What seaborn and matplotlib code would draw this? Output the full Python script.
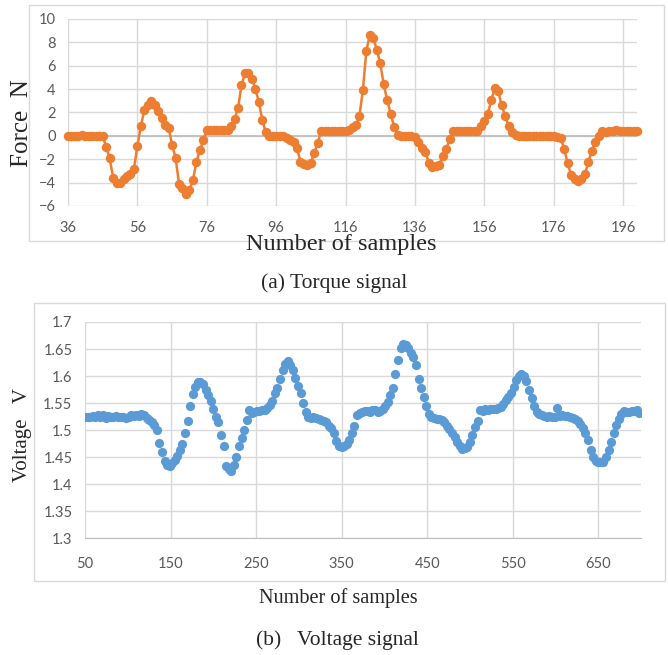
import numpy as np
import pandas as pd
import matplotlib
matplotlib.use("Agg")
import matplotlib.pyplot as plt
import seaborn as sns
from matplotlib.patches import Rectangle

# torque signal (force, N), one value per sample starting at 36
torque = [
    0, 0, 0, 0, 0.05, 0, 0, 0, 0, 0,
    0, -0.94, -1.91, -3.57, -4.0, -4.0, -3.71, -3.46, -3.29, -2.83,
    -0.86, 0.86, 2.2, 2.66, 3.0, 2.63, 2.14, 1.57, 0.91, 0.71,
    -0.8, -1.86, -4.09, -4.49, -5.0, -4.63, -3.8, -2.23, -1.23, -0.37,
    0.54, 0.5, 0.5, 0.5, 0.5, 0.5, 0.5, 0.86, 1.43, 2.37,
    4.34, 5.34, 5.4, 4.9, 4.03, 2.9, 1.37, 0.29, 0, 0,
    0, 0, -0.05, -0.15, -0.37, -0.51, -1.0, -2.23, -2.43, -2.49,
    -2.29, -1.43, -0.57, 0.43, 0.45, 0.45, 0.45, 0.45, 0.45, 0.45,
    0.45, 0.5, 0.75, 0.9, 1.7, 3.95, 7.3, 8.65, 8.4, 7.35,
    6.2, 4.4, 3.05, 1.9, 0.77, 0.1, 0, 0, 0, 0,
    -0.1, -0.5, -1.0, -1.4, -2.3, -2.65, -2.6, -2.5, -1.7, -1.15,
    -0.3, 0.45, 0.45, 0.45, 0.45, 0.45, 0.45, 0.45, 0.45, 0.86,
    1.3, 1.9, 3.05, 4.1, 3.8, 2.6, 1.7, 0.86, 0.37, 0.1,
    0, 0, 0, 0, 0, -0.05, 0, 0, 0, 0,
    0, -0.1, -0.2, -1.09, -2.34, -3.34, -3.71, -3.86, -3.71, -3.29,
    -2.2, -1.29, -0.51, 0, 0.43, 0.37, 0.45, 0.45, 0.49, 0.45,
    0.45, 0.45, 0.45, 0.45, 0.45,
]
torque_start = 36
torque_xticks = [36, 56, 76, 96, 116, 136, 156, 176, 196]
torque_yticks = [-6, -4, -2, 0, 2, 4, 6, 8, 10]

# voltage signal (V), one value every 3 samples starting at 50
voltage = [
    1.524, 1.525, 1.524, 1.526, 1.525, 1.527, 1.524, 1.528, 1.523, 1.526,
    1.525, 1.524, 1.526, 1.525, 1.524, 1.525, 1.522, 1.525, 1.527, 1.526,
    1.528, 1.526, 1.529, 1.527, 1.523, 1.518, 1.514, 1.510, 1.500, 1.476,
    1.460, 1.443, 1.436, 1.434, 1.439, 1.444, 1.452, 1.463, 1.475, 1.494,
    1.517, 1.545, 1.566, 1.580, 1.588, 1.589, 1.585, 1.575, 1.564, 1.553,
    1.538, 1.524, 1.515, 1.490, 1.470, 1.433, 1.427, 1.425, 1.435, 1.450,
    1.470, 1.485, 1.500, 1.518, 1.537, 1.532, 1.534, 1.535, 1.535, 1.537,
    1.537, 1.540, 1.546, 1.554, 1.568, 1.578, 1.595, 1.612, 1.622, 1.627,
    1.620, 1.612, 1.596, 1.582, 1.568, 1.550, 1.533, 1.525, 1.522, 1.524,
    1.523, 1.521, 1.519, 1.517, 1.514, 1.508, 1.503, 1.494, 1.480, 1.470,
    1.468, 1.470, 1.474, 1.482, 1.494, 1.508, 1.528, 1.532, 1.534, 1.535,
    1.536, 1.534, 1.537, 1.537, 1.533, 1.535, 1.539, 1.545, 1.552, 1.565,
    1.577, 1.603, 1.630, 1.652, 1.660, 1.657, 1.651, 1.643, 1.636, 1.620,
    1.595, 1.578, 1.562, 1.545, 1.530, 1.524, 1.522, 1.521, 1.521, 1.518,
    1.514, 1.508, 1.502, 1.495, 1.487, 1.478, 1.470, 1.465, 1.466, 1.469,
    1.478, 1.490, 1.505, 1.516, 1.537, 1.536, 1.538, 1.537, 1.538, 1.539,
    1.539, 1.541, 1.543, 1.548, 1.556, 1.562, 1.569, 1.579, 1.592, 1.600,
    1.604, 1.600, 1.590, 1.575, 1.560, 1.545, 1.534, 1.530, 1.527, 1.526,
    1.525, 1.526, 1.524, 1.525, 1.540, 1.526, 1.527, 1.526, 1.526, 1.524,
    1.523, 1.520, 1.517, 1.511, 1.503, 1.495, 1.482, 1.463, 1.450, 1.443,
    1.440, 1.440, 1.441, 1.450, 1.463, 1.478, 1.494, 1.510, 1.521, 1.530,
    1.535, 1.533, 1.534, 1.535, 1.536, 1.537, 1.532,
]
volt_start = 50
volt_step = 3
volt_xticks = [50, 150, 250, 350, 450, 550, 650]
volt_yticks = [1.3, 1.35, 1.4, 1.45, 1.5, 1.55, 1.6, 1.65, 1.7]
volt_ylabels = ["1.3", "1.35", "1.4", "1.45", "1.5", "1.55", "1.6", "1.65", "1.7"]

df_t = pd.DataFrame({"sample": np.arange(torque_start, torque_start + len(torque)), "force": torque})
df_v = pd.DataFrame({"sample": np.arange(volt_start, volt_start + volt_step * len(voltage), volt_step),
                     "voltage": voltage})

sns.set_style("white")
plt.rcParams["font.family"] = ["Lato", "DejaVu Sans"]
serif = ["Liberation Serif", "DejaVu Serif"]
grid_c = "#D9D9D9"
tick_c = "#595959"

fig = plt.figure(figsize=(6.68, 6.55), dpi=100)

# chart frames
fig.patches.append(Rectangle((0.0434, 0.632), 0.9506, 0.360, transform=fig.transFigure,
                             fill=False, edgecolor=grid_c, lw=1, zorder=0))
fig.patches.append(Rectangle((0.0509, 0.113), 0.9446, 0.4244, transform=fig.transFigure,
                             fill=False, edgecolor=grid_c, lw=1, zorder=0))

# (a) torque
ax1 = fig.add_axes([0.1018, 0.6855, 0.8518, 0.2855])
ax1.axhline(0, color="#BFBFBF", lw=1.3, zorder=1)
sns.lineplot(data=df_t, x="sample", y="force", ax=ax1, color="#ED7D31", marker="o",
             markersize=6.8, markeredgewidth=0, linewidth=1.8, zorder=3)
ax1.set_xlim(36, 200)
ax1.set_ylim(-6, 10)
ax1.set_xticks(torque_xticks)
ax1.set_yticks(torque_yticks)
ax1.grid(True, color=grid_c, lw=1)
ax1.set_axisbelow(True)
for s in ax1.spines.values():
    s.set_visible(False)
ax1.tick_params(length=0, labelsize=10.5, labelcolor=tick_c)
ax1.tick_params(axis="x", pad=11)
ax1.tick_params(axis="y", pad=9)
ax1.set_xlabel("")
ax1.set_ylabel("")
for lines in ax1.lines:
    lines.set_clip_on(False)

# (b) voltage
ax2 = fig.add_axes([0.1272, 0.1786, 0.8324, 0.3298])
sns.scatterplot(data=df_v, x="sample", y="voltage", ax=ax2, color="#5B9BD5", s=44,
                linewidth=0, zorder=3)
ax2.set_xlim(50, 700)
ax2.set_ylim(1.3, 1.7)
ax2.set_xticks(volt_xticks)
ax2.set_yticks(volt_yticks)
ax2.set_yticklabels(volt_ylabels)
ax2.grid(True, color=grid_c, lw=1)
ax2.set_axisbelow(True)
for k, s in ax2.spines.items():
    s.set_visible(k == "bottom")
ax2.spines["bottom"].set_color("#BFBFBF")
ax2.tick_params(length=0, labelsize=10.5, labelcolor=tick_c)
ax2.tick_params(axis="x", pad=14)
ax2.tick_params(axis="y", pad=9)
ax2.set_xlabel("")
ax2.set_ylabel("")

# labels and captions
fig.text(0.033, 0.812, "Force  N", rotation=90, ha="center", va="center", fontsize=18, family=serif)
fig.text(0.5105, 0.626, "Number of samples", ha="center", va="center", fontsize=17.5, family=serif)
fig.text(0.500, 0.568, "(a) Torque signal", ha="center", va="center", fontsize=15.5, family=serif)
fig.text(0.033, 0.336, "Voltage   V", rotation=90, ha="center", va="center", fontsize=15, family=serif)
fig.text(0.506, 0.087, "Number of samples", ha="center", va="center", fontsize=14.6, family=serif)
fig.text(0.505, 0.023, "(b)   Voltage signal", ha="center", va="center", fontsize=15.5, family=serif)

fig.savefig("out.png", dpi=100)
